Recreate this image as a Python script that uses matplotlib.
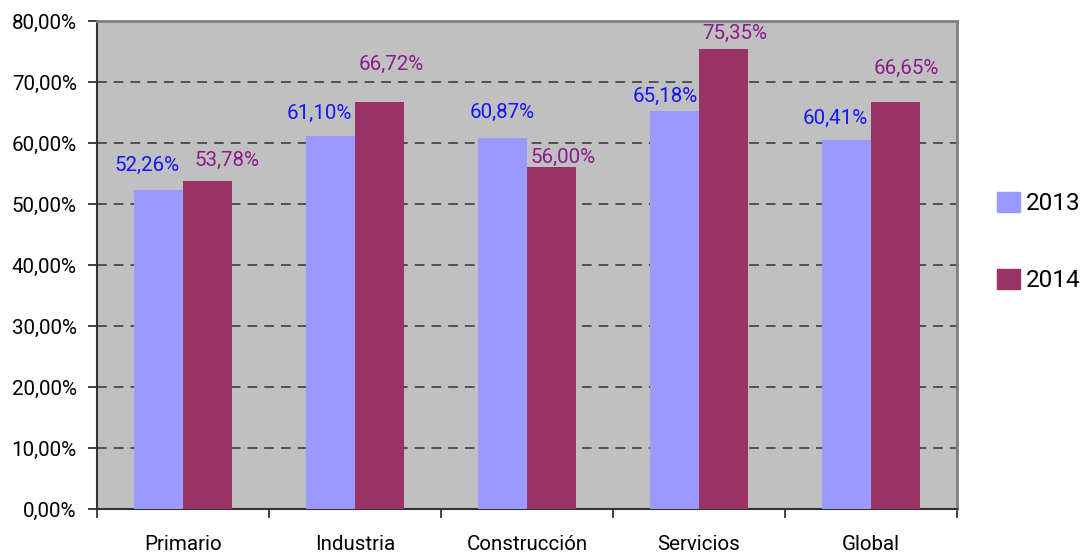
import numpy as np
import matplotlib
matplotlib.use('Agg')
from matplotlib import pyplot as plt
from matplotlib.patches import Patch

plt.rcParams['font.family'] = ['Roboto', 'DejaVu Sans']

categorias = ['Primario', 'Industria', 'Construcción', 'Servicios', 'Global']
v2013 = [52.26, 61.10, 60.87, 65.18, 60.41]
v2014 = [53.78, 66.72, 56.00, 75.35, 66.65]
series = ['2013', '2014']

# where Excel put each value label, in pixels from the bar top centre
off13 = [(-11, 25), (-11, 23), (0, 25), (-9, 15), (-11, 22)]
off14 = [(19, 21), (12, 38), (11, 10), (11, 16), (11, 34)]

col13, col14 = '#9999FF', '#993366'
txt13, txt14 = '#1414FF', '#8B1A8B'
fs = 14.8

fig = plt.figure(figsize=(10.83, 5.53), dpi=100)
ax = fig.add_axes([97/1083, 1 - 509/553, 860/1083, 488/553])
ax.set_facecolor('#C0C0C0')

x = np.arange(len(categorias))
w = 0.285
ax.bar(x - w/2, v2013, w, color=col13, zorder=3)
ax.bar(x + w/2, v2014, w, color=col14, zorder=3)

for i in range(len(x)):
	ax.annotate(f'{v2013[i]:.2f}%'.replace('.', ','), (x[i] - w/2, v2013[i]),
		xytext=off13[i], textcoords='offset pixels', ha='center', va='center',
		color=txt13, fontsize=fs)
	ax.annotate(f'{v2014[i]:.2f}%'.replace('.', ','), (x[i] + w/2, v2014[i]),
		xytext=off14[i], textcoords='offset pixels', ha='center', va='center',
		color=txt14, fontsize=fs)

ax.set_xlim(-0.5, len(x) - 0.5)
ax.set_ylim(0, 80)
ax.set_yticks(np.arange(0, 81, 10))
ax.set_yticklabels([f'{v:.2f}%'.replace('.', ',') for v in np.arange(0, 81, 10)], fontsize=fs)
ax.yaxis.grid(True, linestyle=(0, (5, 3.6)), color='#505050', linewidth=1.4, zorder=1)

ax.set_xticks(np.arange(-0.5, len(x), 1))
ax.set_xticklabels([])
ax.set_xticks(x, minor=True)
ax.set_xticklabels(categorias, minor=True, fontsize=fs)
ax.tick_params(axis='x', which='minor', length=0, pad=19)
ax.tick_params(axis='x', which='major', length=6.5, width=1.3, direction='out', color='#333333')
ax.tick_params(axis='y', length=6.5, width=1.3, direction='out', color='#333333', pad=8)

for s in ['left', 'bottom']:
	ax.spines[s].set_color('#333333')
	ax.spines[s].set_linewidth(1.5)
for s in ['top', 'right']:
	ax.spines[s].set_color('#808080')
	ax.spines[s].set_linewidth(2)

handles = [Patch(color=col13), Patch(color=col14)]
fig.legend(handles, series, loc='center left', bbox_to_anchor=(997/1083, 1 - 242/553),
	frameon=False, fontsize=17.5, handlelength=0.95, handleheight=0.9,
	handletextpad=0.25, labelspacing=2.2, borderpad=0, borderaxespad=0)

plt.savefig('out.png', dpi=100)
